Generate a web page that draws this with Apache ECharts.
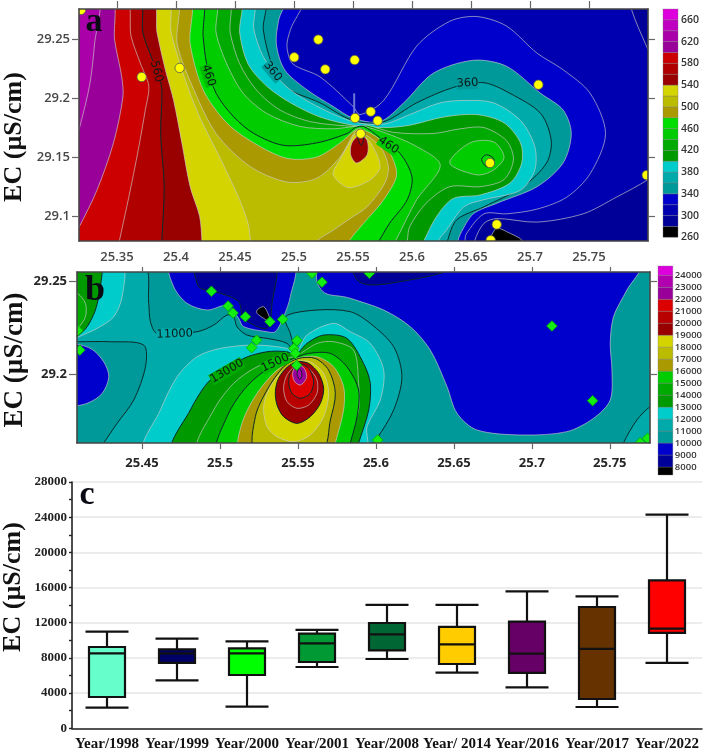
<!DOCTYPE html>
<html><head><meta charset="utf-8">
<style>html,body{margin:0;padding:0;background:#fff}#c{width:705px;height:753px;filter:blur(.4px)}</style>
<script src="https://cdn.jsdelivr.net/npm/echarts@6/dist/echarts.min.js"></script>
</head><body><div id="c"></div>
<script>
// ---------- Panel a: EC contours (lon, lat) ----------
const levelsA=[260,280,300,320,340,360,380,400,420,440,460,480,500,520,540,560,580,600,620,640,660];
const colorsA=['#000000','#000099','#0000b0','#0000cc','#009999','#00aaaa','#00cccc','#009900','#00aa00','#00cc00','#00dd00','#aa9900','#bbbb00','#d4d400','#990000','#b00000','#cc0000','#990099','#aa00aa','#c000c0','#dd00dd'];
const ticksAx=[25.35,25.4,25.45,25.5,25.55,25.6,25.65,25.7,25.75];
const ticksAy=[29.1,29.15,29.2,29.25];
const a300=[[25.786,29.286],[25.786,29.275],[25.8,29.241],[25.813,29.212],[25.813,29.142],[25.8,29.131],[25.773,29.116],[25.745,29.102],[25.706,29.095],[25.672,29.098],[25.661,29.094],[25.653,29.079],[25.652,29.068],[25.3,29.068],[25.3,29.286]];
const a320=[[25.507,29.286],[25.497,29.258],[25.494,29.244],[25.499,29.229],[25.522,29.218],[25.55,29.193],[25.556,29.186],[25.576,29.198],[25.604,29.244],[25.632,29.265],[25.655,29.269],[25.68,29.261],[25.706,29.238],[25.728,29.224],[25.751,29.204],[25.764,29.17],[25.751,29.136],[25.731,29.116],[25.706,29.106],[25.68,29.102],[25.661,29.102],[25.646,29.085],[25.645,29.079],[25.645,29.068],[25.3,29.068],[25.3,29.286]];
const a340=[[25.492,29.286],[25.487,29.266],[25.485,29.246],[25.492,29.224],[25.511,29.207],[25.533,29.193],[25.55,29.183],[25.573,29.18],[25.593,29.196],[25.618,29.221],[25.652,29.232],[25.68,29.227],[25.709,29.204],[25.728,29.19],[25.735,29.17],[25.728,29.145],[25.706,29.125],[25.672,29.111],[25.652,29.102],[25.641,29.085],[25.639,29.079],[25.638,29.068],[25.3,29.068],[25.3,29.286]];
const a360=[[25.474,29.286],[25.474,29.258],[25.481,29.229],[25.491,29.21],[25.522,29.196],[25.55,29.181],[25.576,29.18],[25.604,29.196],[25.635,29.209],[25.661,29.213],[25.683,29.204],[25.709,29.187],[25.718,29.164],[25.714,29.145],[25.694,29.125],[25.661,29.108],[25.638,29.097],[25.63,29.079],[25.628,29.068],[25.3,29.068],[25.3,29.286]];
const a380=[[25.464,29.286],[25.466,29.258],[25.474,29.235],[25.491,29.212],[25.514,29.196],[25.55,29.18],[25.576,29.178],[25.598,29.186],[25.624,29.196],[25.646,29.198],[25.669,29.196],[25.692,29.181],[25.704,29.159],[25.704,29.139],[25.692,29.122],[25.661,29.114],[25.644,29.108],[25.629,29.088],[25.622,29.079],[25.618,29.068],[25.3,29.068],[25.3,29.286]];
const a400=[[25.453,29.286],[25.454,29.255],[25.461,29.229],[25.477,29.21],[25.497,29.196],[25.522,29.184],[25.55,29.177],[25.576,29.175],[25.598,29.177],[25.627,29.184],[25.655,29.186],[25.678,29.179],[25.692,29.162],[25.693,29.145],[25.683,29.128],[25.658,29.118],[25.635,29.115],[25.621,29.1],[25.61,29.079],[25.605,29.068],[25.3,29.068],[25.3,29.286]];
const a420=[[25.443,29.286],[25.446,29.255],[25.454,29.229],[25.468,29.207],[25.488,29.19],[25.514,29.18],[25.552,29.176],[25.562,29.177],[25.584,29.171],[25.618,29.17],[25.641,29.174],[25.661,29.175],[25.68,29.164],[25.686,29.148],[25.678,29.131],[25.658,29.125],[25.632,29.125],[25.612,29.111],[25.598,29.091],[25.596,29.079],[25.594,29.068],[25.3,29.068],[25.3,29.286]];
const a440=[[25.432,29.286],[25.434,29.255],[25.443,29.229],[25.457,29.204],[25.477,29.187],[25.505,29.176],[25.533,29.174],[25.552,29.176],[25.559,29.176],[25.576,29.171],[25.604,29.159],[25.624,29.143],[25.604,29.114],[25.586,29.079],[25.579,29.068],[25.3,29.068],[25.3,29.286]];
const a440i=[[25.632,29.145],[25.649,29.162],[25.669,29.163],[25.678,29.15],[25.669,29.139],[25.655,29.135]];
const a460=[[25.42,29.286],[25.423,29.252],[25.426,29.229],[25.434,29.204],[25.449,29.184],[25.466,29.17],[25.491,29.16],[25.519,29.162],[25.545,29.17],[25.552,29.175],[25.559,29.176],[25.572,29.167],[25.59,29.153],[25.6,29.133],[25.596,29.114],[25.581,29.094],[25.572,29.079],[25.565,29.068],[25.3,29.068],[25.3,29.286]];
const a460i=[[25.659,29.148],[25.663,29.152],[25.669,29.149],[25.669,29.143],[25.663,29.142]];
const a480=[[25.41,29.286],[25.412,29.246],[25.423,29.207],[25.443,29.179],[25.466,29.162],[25.494,29.149],[25.519,29.15],[25.539,29.162],[25.552,29.173],[25.557,29.174],[25.576,29.162],[25.587,29.136],[25.576,29.114],[25.559,29.094],[25.5475,29.08],[25.542,29.068],[25.3,29.068],[25.3,29.286]];
const a500=[[25.399,29.286],[25.401,29.246],[25.413,29.212],[25.434,29.17],[25.463,29.142],[25.494,29.129],[25.519,29.132],[25.539,29.15],[25.552,29.172],[25.556,29.172],[25.573,29.159],[25.58,29.142],[25.577,29.128],[25.562,29.108],[25.5475,29.098],[25.533,29.088],[25.519,29.079],[25.511,29.068],[25.3,29.068],[25.3,29.286]];
const a520=[[25.392,29.286],[25.396,29.255],[25.408,29.215],[25.42,29.184],[25.437,29.15],[25.453,29.116],[25.461,29.094],[25.463,29.079],[25.463,29.068],[25.3,29.068],[25.3,29.286]];
const a520i=[[25.533,29.136],[25.539,29.148],[25.547,29.162],[25.552,29.17],[25.556,29.17],[25.565,29.162],[25.573,29.142],[25.565,29.131],[25.5475,29.124],[25.539,29.128]];
const a540=[[25.379,29.286],[25.384,29.255],[25.391,29.224],[25.398,29.198],[25.405,29.162],[25.412,29.125],[25.42,29.1],[25.422,29.079],[25.422,29.068],[25.3,29.068],[25.3,29.286]];
const a540i=[[25.556,29.169],[25.549,29.162],[25.548,29.152],[25.553,29.145],[25.562,29.152],[25.562,29.164]];
const a560=[[25.368,29.286],[25.372,29.255],[25.379,29.235],[25.385,29.22],[25.388,29.207],[25.387,29.17],[25.39,29.125],[25.388,29.079],[25.388,29.068],[25.3,29.068],[25.3,29.286]];
const a560i=[[25.554,29.167],[25.557,29.16],[25.559,29.167]];
const a580=[[25.357,29.286],[25.362,29.252],[25.37,29.229],[25.377,29.21],[25.374,29.19],[25.368,29.156],[25.36,29.116],[25.352,29.079],[25.35,29.068],[25.3,29.068],[25.3,29.286]];
const a600=[[25.345,29.286],[25.348,29.249],[25.354,29.218],[25.355,29.201],[25.347,29.162],[25.333,29.122],[25.318,29.091],[25.307,29.071],[25.3,29.071],[25.3,29.286]];
const a620=[[25.334,29.286],[25.331,29.246],[25.327,29.212],[25.318,29.174],[25.312,29.156],[25.3,29.156],[25.3,29.286]];
const a260=[[25.663,29.077],[25.668,29.085],[25.672,29.09],[25.68,29.087],[25.694,29.079],[25.697,29.068],[25.663,29.068]];
const stationsA=[[25.3195,29.2746],[25.3709,29.2178],[25.4031,29.2255],[25.5002,29.2345],[25.5206,29.2495],[25.5265,29.2243],[25.5514,29.2322],[25.5517,29.1831],[25.565,29.1885],[25.5709,29.1808],[25.5565,29.1698],[25.6661,29.145],[25.7071,29.2113],[25.7989,29.1348],[25.6718,29.093],[25.6667,29.0797]];
const labelsA=[['560',25.3835,29.2225,-75],['460',25.4275,29.2190,-72],['360',25.4820,29.2225,-50],['360',25.6470,29.2125,3],['460',25.5800,29.1600,-35]];

// ---------- Panel b ----------
const levelsB=[7333,8000,9000,10000,11000,12000,13000,14000,15000,16000,17000,18000,19000,20000,21000,22000,23000,24000];
const colorsB=['#000000','#000099','#0000cc','#009999','#00aaaa','#00cccc','#009900','#00aa00','#00cc00','#aa9900','#bbbb00','#d4d400','#990000','#b80000','#dd0000','#990099','#b000b0','#dd00dd'];
const ticksBx=[25.45,25.5,25.55,25.6,25.65,25.7,25.75];
const ticksBy=[29.2,29.25];
const b11=[[25.451,29.259],[25.4543,29.2381],[25.4554,29.2282],[25.4596,29.2219],[25.4853,29.2228],[25.496,29.2264],[25.5045,29.2318],[25.5088,29.2309],[25.5109,29.2255],[25.5173,29.221],[25.5301,29.2192],[25.543,29.2165],[25.5483,29.2102],[25.5473,29.2147],[25.5451,29.2219],[25.5419,29.2309],[25.5622,29.2345],[25.5836,29.2336],[25.5964,29.2273],[25.6114,29.2147],[25.6167,29.1985],[25.6114,29.1806],[25.6007,29.1653],[25.5943,29.159],[25.4,29.159],[25.4,29.259]];
const b10w=[[25.4052,29.2174],[25.4088,29.2174],[25.4297,29.2174],[25.4511,29.2156],[25.4522,29.2039],[25.4447,29.186],[25.434,29.1734],[25.4254,29.1628],[25.4222,29.159],[25.4,29.159],[25.4,29.2174]];
const b11e=[[25.7588,29.1628],[25.7674,29.1752],[25.7759,29.1824],[25.7823,29.1842],[25.7823,29.159],[25.7588,29.159]];
const b9c=[[25.4682,29.2588],[25.4703,29.2471],[25.4789,29.2381],[25.4917,29.2345],[25.5045,29.2372],[25.5088,29.2336],[25.512,29.23],[25.5152,29.2255],[25.5301,29.2228],[25.5355,29.2228],[25.5408,29.2309],[25.5451,29.2417],[25.5468,29.2588]];
const b9e=[[25.5644,29.2588],[25.5622,29.2498],[25.5676,29.2435],[25.5793,29.2417],[25.5836,29.2408],[25.605,29.2345],[25.6221,29.2255],[25.6349,29.2129],[25.6456,29.1932],[25.652,29.1788],[25.6648,29.1698],[25.6947,29.1671],[25.7225,29.1689],[25.7396,29.1761],[25.7503,29.186],[25.7514,29.2021],[25.7503,29.2165],[25.7524,29.2309],[25.761,29.2453],[25.7691,29.2588]];
const b9w=[[25.4052,29.2151],[25.4169,29.2138],[25.4254,29.2066],[25.4287,29.1985],[25.4244,29.1895],[25.4148,29.1842],[25.4052,29.1838]];
const b8c=[[25.4842,29.2588],[25.4853,29.2489],[25.4874,29.2462],[25.5002,29.2435],[25.512,29.239],[25.5152,29.23],[25.5301,29.2246],[25.5334,29.2381],[25.5344,29.2588]];
const b8e=[[25.5857,29.2588],[25.5879,29.2507],[25.5964,29.248],[25.6157,29.2498],[25.6434,29.2548],[25.6477,29.2588]];
const b7=[[25.5238,29.2345],[25.528,29.2363],[25.5312,29.2318],[25.5319,29.2282],[25.528,29.23],[25.5238,29.2327]];
const b12w=[[25.4372,29.2588],[25.4372,29.2417],[25.4319,29.2309],[25.4212,29.2246],[25.4088,29.2198],[25.4052,29.2183],[25.4052,29.2588]];
const b13w=[[25.4233,29.2588],[25.4233,29.2471],[25.4201,29.2345],[25.4148,29.2255],[25.4088,29.2205],[25.4052,29.2192],[25.4052,29.2588]];
const b14w=[[25.4052,29.2444],[25.4088,29.2435],[25.4137,29.2381],[25.4137,29.2309],[25.4088,29.2246],[25.4052,29.2228]];
const b12=[[25.4522,29.159],[25.4618,29.1806],[25.4725,29.1985],[25.4853,29.2093],[25.5002,29.2138],[25.5216,29.2156],[25.543,29.2138],[25.5483,29.2106],[25.5558,29.221],[25.5729,29.2273],[25.5836,29.2228],[25.5964,29.2165],[25.605,29.2021],[25.6028,29.186],[25.5943,29.1716],[25.5932,29.159]];
const b13=[[25.4703,29.159],[25.481,29.1806],[25.4938,29.1968],[25.5152,29.2084],[25.5301,29.212],[25.543,29.212],[25.5483,29.2102],[25.5558,29.2165],[25.5665,29.221],[25.5814,29.2192],[25.5921,29.2057],[25.5964,29.195],[25.5954,29.1806],[25.5889,29.1628],[25.5874,29.159]];
const b14=[[25.4864,29.159],[25.496,29.1806],[25.5088,29.195],[25.5238,29.2039],[25.5408,29.2084],[25.5488,29.2097],[25.5622,29.2165],[25.5729,29.2174],[25.5857,29.2129],[25.5889,29.195],[25.5889,29.1806],[25.5836,29.168],[25.581,29.159]];
const b15=[[25.4992,29.159],[25.5045,29.177],[25.5152,29.1914],[25.528,29.2012],[25.5473,29.2084],[25.5569,29.2111],[25.5708,29.2111],[25.5814,29.2039],[25.5889,29.1914],[25.5879,29.177],[25.5836,29.1628],[25.5825,29.159]];
const b16=[[25.5131,29.159],[25.5141,29.1734],[25.5238,29.1896],[25.5366,29.2021],[25.5494,29.2084],[25.5622,29.2093],[25.5729,29.2039],[25.5793,29.1932],[25.5793,29.1806],[25.574,29.1628],[25.5729,29.159]];
const b17=[[25.5227,29.159],[25.5227,29.1770],[25.5302,29.1914],[25.5408,29.2039],[25.5504,29.2084],[25.5611,29.2084],[25.5697,29.2021],[25.574,29.1896],[25.5708,29.1752],[25.5654,29.159]];
const b18=[[25.5302,29.1716],[25.528,29.1824],[25.5323,29.1932],[25.5408,29.2021],[25.5494,29.2066],[25.5579,29.2066],[25.5665,29.2003],[25.5697,29.1896],[25.5665,29.177],[25.5579,29.1671],[25.5473,29.1635],[25.5366,29.1662]];
const b19=[[25.5355,29.1905],[25.5376,29.1977],[25.543,29.2036],[25.5494,29.2066],[25.5569,29.2057],[25.5633,29.2003],[25.5665,29.1923],[25.5644,29.1842],[25.5579,29.177],[25.5494,29.1734],[25.5408,29.177],[25.5366,29.1833]];
const b20=[[25.5408,29.1923],[25.543,29.1995],[25.5494,29.2048],[25.5569,29.203],[25.5622,29.1968],[25.5622,29.1896],[25.5569,29.1833],[25.5494,29.1815],[25.543,29.1851]];
const b21=[[25.5441,29.195],[25.5451,29.2003],[25.5505,29.2054],[25.5569,29.203],[25.5601,29.1959],[25.5579,29.1896],[25.5515,29.1869],[25.5462,29.1896]];
const b22=[[25.5466,29.2003],[25.5483,29.2039],[25.5515,29.2048],[25.5547,29.2021],[25.5554,29.1977],[25.5515,29.1941],[25.5479,29.1959]];
const b23=[[25.5494,29.2003],[25.5511,29.203],[25.5526,29.1994],[25.5511,29.1971]];
const stationsB=[[25.4945,29.2446],[25.5052,29.2367],[25.5084,29.2329],[25.5163,29.2309],[25.5321,29.2282],[25.5402,29.2295],[25.5494,29.218],[25.5473,29.2138],[25.5483,29.2111],[25.5235,29.2182],[25.5203,29.2142],[25.4101,29.2129],[25.4088,29.2234],[25.5492,29.2047],[25.559,29.2543],[25.5654,29.2495],[25.5958,29.2543],[25.7129,29.2259],[25.739,29.1856],[25.6011,29.1644],[25.7695,29.1629],[25.7742,29.1653]];
const labelsB=[['11000',25.4710,29.2215,2],['13000',25.5045,29.2015,30],['1500',25.5355,29.2060,25]];

// ---------- Panel c: box plot ----------
const years=['Year/1998','Year/1999','Year/2000','Year/2001','Year/2008','Year/ 2014','Year/2016','Year/2017','Year/2022'];
const whiskerLow=[2350,5455,2460,6970,7880,6330,4660,2420,7430];
const q1=[3560,7430,6060,7540,8870,7310,6290,3330,10840];
const median=[8525,8525,8525,9660,10680,9550,8490,9020,11330];
const q3=[9245,8980,9090,10760,11970,11520,12120,13790,16820];
const whiskerHigh=[10990,10190,9890,11180,14020,14020,15570,15000,24290];
const boxColors=['#66ffcc','#000066','#00ff00','#009933','#006633','#ffcc00','#660066','#663300','#ff0000'];

// ---------- Assembly ----------
const lineA=l=>(l%100===60)?'#0a2a2a':'rgba(205,205,205,.65)';
const lineB=l=>(l%2000===1000)?'#0a2a2a':'rgba(205,205,205,.65)';
const colA=l=>colorsA[levelsA.indexOf(l)], colB=l=>colorsB[levelsB.indexOf(l)];
const bandsA=[[300,a300],[320,a320],[340,a340],[360,a360],[380,a380],[400,a400],[420,a420],[440,a440],[440,a440i],[460,a460],[460,a460i],[480,a480],[500,a500],[520,a520],[520,a520i],[540,a540],[540,a540i],[560,a560],[560,a560i],[580,a580],[600,a600],[620,a620],[260,a260]]
  .map(([l,p])=>({path:p,fill:colA(l),stroke:l===260?'rgba(205,205,205,.65)':lineA(l)}));
const bandsB=[[11000,b11],[10000,b10w],[11000,b11e],[9000,b9c],[9000,b9e],[9000,b9w],[8000,b8c],[8000,b8e],[7333,b7],
  [12000,b12w],[13000,b13w],[14000,b14w],[12000,b12],[13000,b13],[14000,b14],[15000,b15],[16000,b16],[17000,b17],[18000,b18],[19000,b19],[20000,b20],[21000,b21],[22000,b22],[23000,b23]]
  .map(([l,p])=>({path:p,fill:colB(l),stroke:(l===10000||l===8000)?'#0a2a2a':(l===9000?'rgba(205,205,205,.65)':lineB(l))}));
const labelBgA=['#a80000','#00bb00','#00a0a0','#009999','#00cc00'];
const labelBgB=['#00aaaa','#00aa00','#00b800'];

function contourSeries(bands,ax,ay,baseFill,xMin,xMax,yMin,yMax){
  return [{type:'custom',xAxisIndex:ax,yAxisIndex:ay,clip:true,silent:true,z:2,data:[[xMin,yMin]],
    renderItem:(p,api)=>{const a=api.coord([xMin,yMax]),b=api.coord([xMax,yMin]);
      return{type:'rect',shape:{x:a[0],y:a[1],width:b[0]-a[0],height:b[1]-a[1]},style:{fill:baseFill}};}},
   {type:'custom',xAxisIndex:ax,yAxisIndex:ay,clip:true,silent:true,z:3,data:bands.map(b=>b.path[0]),
    renderItem:(p,api)=>{const b=bands[p.dataIndex];
      return{type:'polygon',shape:{points:b.path.map(q=>api.coord(q)),smooth:.3},style:{fill:b.fill,stroke:b.stroke,lineWidth:1}};}}];
}
function labelSeries(labels,bgs,ax,ay,size){
  return {type:'custom',xAxisIndex:ax,yAxisIndex:ay,clip:true,silent:true,z:4,data:labels.map(l=>[l[1],l[2]]),
    renderItem:(p,api)=>{const l=labels[p.dataIndex],c=api.coord([l[1],l[2]]);
      return{type:'text',x:c[0],y:c[1],rotation:l[3]*Math.PI/180,style:{text:l[0],fill:'#0a1a1a',font:size+'px "DejaVu Sans"',align:'center',verticalAlign:'middle',backgroundColor:bgs[p.dataIndex]}};}};
}
function stationSeries(points,ax,ay,kind){
  return {type:'custom',xAxisIndex:ax,yAxisIndex:ay,clip:true,silent:true,z:5,data:points,
    renderItem:(p,api)=>{const c=api.coord(points[p.dataIndex]);
      if(kind==='circle')return{type:'circle',shape:{cx:c[0],cy:c[1],r:4.7},style:{fill:'#ffff00',stroke:'#555',lineWidth:.8}};
      const r=5.3;
      return{type:'polygon',shape:{points:[[c[0],c[1]-r],[c[0]+r,c[1]],[c[0],c[1]+r],[c[0]-r,c[1]]]},style:{fill:'#12ee12',stroke:'#00aa00',lineWidth:.8}};}};
}
function barSeries(levels,colors,top,ax,ay){
  return {type:'custom',xAxisIndex:ax,yAxisIndex:ay,silent:true,data:levels.map(l=>[0,l]),
    renderItem:(p,api)=>{const i=p.dataIndex,hi=i+1<levels.length?levels[i+1]:top;
      const a=api.coord([0,hi]),b=api.coord([1,levels[i]]);
      return{type:'rect',shape:{x:a[0],y:a[1],width:b[0]-a[0],height:b[1]-a[1]},style:{fill:colors[i],stroke:'rgba(120,120,120,.6)',lineWidth:.6}};}};
}
const boxSeries={type:'custom',xAxisIndex:4,yAxisIndex:4,silent:true,z:3,data:years.map((y,i)=>[i,whiskerLow[i],q1[i],median[i],q3[i],whiskerHigh[i]]),
  encode:{x:0,y:[1,2,3,4,5]},
  renderItem:(p,api)=>{const i=p.dataIndex,x=api.coord([i,0])[0],Y=v=>api.coord([i,v])[1],bw=18,cw=21.5,ls={stroke:'#111',lineWidth:2.2,fill:'none'};
    const seg=(x1,y1,x2,y2)=>({type:'line',shape:{x1,y1,x2,y2},style:ls});
    return{type:'group',children:[
      seg(x,Y(whiskerLow[i]),x,Y(whiskerHigh[i])),
      seg(x-cw,Y(whiskerLow[i]),x+cw,Y(whiskerLow[i])),
      seg(x-cw,Y(whiskerHigh[i]),x+cw,Y(whiskerHigh[i])),
      {type:'rect',shape:{x:x-bw,y:Y(q3[i]),width:2*bw,height:Y(q1[i])-Y(q3[i])},style:{fill:boxColors[i],stroke:'#111',lineWidth:2.2}},
      seg(x-bw,Y(median[i]),x+bw,Y(median[i]))]};}};
const spike={type:'custom',xAxisIndex:0,yAxisIndex:0,clip:true,silent:true,z:3,data:[[25.551,29.204]],
  renderItem:(p,api)=>{const a=api.coord([25.551,29.204]),b=api.coord([25.551,29.185]);
    return{type:'line',shape:{x1:a[0],y1:a[1],x2:b[0],y2:b[1]},style:{stroke:'#6a78d8',lineWidth:2}};}};

const frame='#454545';
const tickFont={fontFamily:'"Open Sans"',fontSize:13,fontWeight:600,color:'#484848'};
const tickFontB={fontFamily:'"Open Sans"',fontSize:13,fontWeight:700,color:'#262626'};
function valAxis(o){return Object.assign({type:'value',z:10,scale:true,splitLine:{show:false},
  axisLine:{show:true,onZero:false,lineStyle:{color:frame,width:1.6}}},o);}
function pos(name,grid,min,max,position,ticks,font,tickLen,labels){
  return valAxis({gridIndex:grid,min,max,position,
    axisTick:{show:tickLen>0,customValues:ticks,length:tickLen,lineStyle:{color:'#666',width:1.2}},
    axisLabel:labels?Object.assign({customValues:ticks,margin:labels},font):{show:false}});
}
const plain=v=>String(v);
const serif='"Liberation Serif"';
const option={animation:false,backgroundColor:'#fff',tooltip:{show:false},
 grid:[{left:79,top:9,width:569,height:232},{left:77,top:272,width:573,height:171},{left:72,top:482,width:630,height:246.3},
       {left:663,top:9,width:15,height:228.3},{left:658,top:263.3,width:15,height:215.7}],
 xAxis:[
  pos('ax',0,25.3178,25.8,'bottom',ticksAx,tickFont,0,10),
  pos('ax2',0,25.3178,25.8,'top',ticksAx,tickFont,8,0),
  pos('bx',1,25.4083,25.7758,'bottom',ticksBx,tickFontB,6,14),
  pos('bx2',1,25.4083,25.7758,'top',ticksBx,tickFontB,5,0),
  {type:'category',gridIndex:2,data:years,axisLine:{lineStyle:{color:'#222',width:1.6}},axisTick:{alignWithLabel:true,length:4,lineStyle:{color:'#222',width:1.4}},
   axisLabel:{interval:0,margin:8,fontFamily:serif,fontWeight:'bold',fontSize:15,color:'#111'}},
  {type:'value',gridIndex:3,min:0,max:1,show:false},
  {type:'value',gridIndex:4,min:0,max:1,show:false}],
 yAxis:[
  pos('ay',0,29.079,29.2754,'left',ticksAy,tickFont,7,9),
  pos('ay2',0,29.079,29.2754,'right',ticksAy,tickFont,7,0),
  pos('by',1,29.1628,29.255,'left',ticksBy,tickFontB,8,10),
  pos('by2',1,29.1628,29.255,'right',ticksBy,tickFontB,7,0),
  {type:'value',gridIndex:2,min:0,max:28000,interval:4000,
   axisLine:{show:true,lineStyle:{color:'#222',width:1.6}},axisTick:{show:true,length:3,lineStyle:{color:'#222',width:1.4}},
   minorTick:{show:true,splitNumber:2,length:3,lineStyle:{color:'#222',width:1.4}},
   splitLine:{show:true,lineStyle:{color:'#ececec',width:2}},
   axisLabel:{formatter:plain,margin:5,fontFamily:serif,fontWeight:'bold',fontSize:13,color:'#222'}},
  {type:'value',gridIndex:3,min:260,max:680,interval:40,position:'right',axisLine:{show:false},axisTick:{show:false},splitLine:{show:false},
   axisLabel:{formatter:plain,showMaxLabel:false,margin:3,fontFamily:'"Open Sans"',fontWeight:600,fontSize:10.5,color:'#333'}},
  {type:'value',gridIndex:4,min:7000,max:25000,interval:1000,position:'right',axisLine:{show:false},axisTick:{show:false},splitLine:{show:false},
   axisLabel:{formatter:plain,showMinLabel:false,showMaxLabel:false,margin:2,fontFamily:'"Open Sans"',fontWeight:600,fontSize:9.5,color:'#333'}}],
 series:[
  ...contourSeries(bandsA,0,0,'#000099',25.3178,25.8,29.079,29.2754),
  spike,labelSeries(labelsA,labelBgA,0,0,11.5),
  stationSeries(stationsA,0,0,'circle'),
  ...contourSeries(bandsB,2,2,'#009999',25.4083,25.7758,29.1628,29.255),
  labelSeries(labelsB,labelBgB,2,2,11.5),
  stationSeries(stationsB,2,2,'diamond'),
  boxSeries,
  barSeries(levelsA,colorsA,680,5,5),
  barSeries(levelsB,colorsB,24776,6,6)],
 graphic:[
  ...[['EC (µS/cm)',14,137,26],['EC (µS/cm)',15,360,27],['EC (µS/cm)',13,587,26]].map(([t,x,y,s])=>({type:'text',x,y,rotation:Math.PI/2,z:20,
     style:{text:t,font:'bold '+s+'px "Liberation Serif"',fill:'#111',align:'center',verticalAlign:'middle'}})),
  ...[['a',94,22,34],['b',95,291,36],['c',87,495,34]].map(([t,x,y,s])=>({type:'text',x,y,z:20,
     style:{text:t,font:'bold '+s+'px "Liberation Serif"',fill:'#0a0a14',align:'center',verticalAlign:'middle'}}))]
};
const chart=echarts.init(document.getElementById('c'),null,{renderer:'canvas',width:705,height:753});
chart.setOption(option);
</script></body></html>
